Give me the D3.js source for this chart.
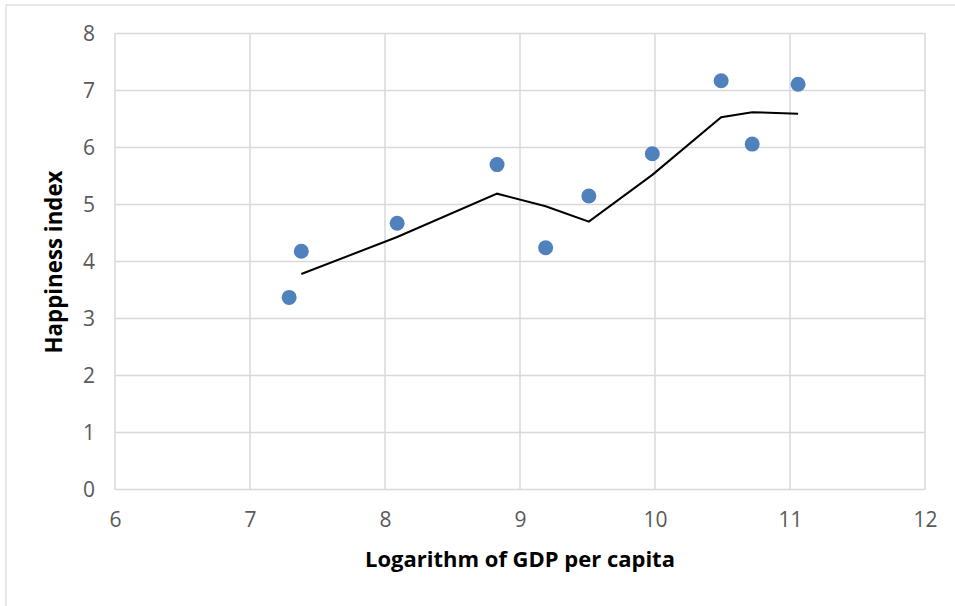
<!DOCTYPE html>
<html><head><meta charset="utf-8">
<script src="https://cdn.jsdelivr.net/npm/d3@7/dist/d3.min.js"></script>
<style>html,body{margin:0;padding:0;background:#fff;}</style>
</head><body>
<svg id="chart" width="955" height="606"></svg>
<script>
// Data
const gdpLog = [7.29, 7.38, 8.09, 8.83, 9.19, 9.51, 9.98, 10.49, 10.72, 11.06];
const happiness = [3.37, 4.18, 4.67, 5.70, 4.24, 5.15, 5.89, 7.17, 6.06, 7.11];
// Moving-average trendline values
const trendX = [7.38, 8.09, 8.83, 9.19, 9.51, 9.98, 10.49, 10.72, 11.06];
const trendY = [3.78, 4.43, 5.19, 4.97, 4.70, 5.52, 6.53, 6.62, 6.59];
const xTicks = [6, 7, 8, 9, 10, 11, 12];
const yTicks = [0, 1, 2, 3, 4, 5, 6, 7, 8];
const xTitle = "Logarithm of GDP per capita";
const yTitle = "Happiness index";

const svg = d3.select("#chart");
const font = "'Open Sans', Lato, sans-serif";

// outer chart border (only top and left edges fall inside the picture)
svg.append("rect").attr("x", 6).attr("y", 5).attr("width", 1000).attr("height", 700)
  .attr("fill", "#fff").attr("stroke", "#d9d9d9").attr("stroke-width", 1.2);

const x = d3.scaleLinear().domain([6, 12]).range([115, 925]);
const y = d3.scaleLinear().domain([0, 8]).range([489.5, 33.5]);

// gridlines
svg.append("g").selectAll("line").data(xTicks).join("line")
  .attr("x1", d => x(d)).attr("x2", d => x(d)).attr("y1", y(0)).attr("y2", y(8))
  .attr("stroke", "#d9d9d9").attr("stroke-width", 1.5);
svg.append("g").selectAll("line").data(yTicks).join("line")
  .attr("y1", d => y(d)).attr("y2", d => y(d)).attr("x1", x(6)).attr("x2", x(12))
  .attr("stroke", "#d9d9d9").attr("stroke-width", 1.5);

// axis labels via d3 axes
const xAxis = svg.append("g").attr("transform", `translate(0,${y(0)})`)
  .call(d3.axisBottom(x).tickValues(xTicks).tickSize(0).tickPadding(23).tickFormat(d3.format("d")));
xAxis.select(".domain").remove();
xAxis.selectAll("text").attr("font-family", font).attr("font-size", 21).attr("fill", "#595959");

const yAxis = svg.append("g").attr("transform", `translate(${x(6)},0)`)
  .call(d3.axisLeft(y).tickValues(yTicks).tickSize(0).tickPadding(20).tickFormat(d3.format("d")));
yAxis.select(".domain").remove();
yAxis.selectAll("text").attr("font-family", font).attr("font-size", 21).attr("fill", "#595959");

// trendline
const pts = trendX.map((v, i) => [v, trendY[i]]);
svg.append("path").datum(pts)
  .attr("d", d3.line().x(d => x(d[0])).y(d => y(d[1])))
  .attr("fill", "none").attr("stroke", "#000").attr("stroke-width", 2);

// points
svg.append("g").selectAll("circle").data(gdpLog.map((v, i) => [v, happiness[i]])).join("circle")
  .attr("cx", d => x(d[0])).attr("cy", d => y(d[1])).attr("r", 7.5)
  .attr("fill", "#4f81bd");

// titles, sized to the widths measured in the reference
function fit(sel, target) {
  const w = sel.node().getComputedTextLength();
  sel.attr("font-size", 20 * target / w);
}
const xt = svg.append("text").attr("x", 520).attr("y", 567).attr("text-anchor", "middle")
  .attr("font-family", font).attr("font-weight", "bold").attr("font-size", 20).attr("fill", "#000")
  .text(xTitle);
fit(xt, 310);
const yt = svg.append("text").attr("transform", "translate(62,262) rotate(-90)").attr("text-anchor", "middle")
  .attr("font-family", font).attr("font-weight", "bold").attr("font-size", 20).attr("fill", "#000")
  .text(yTitle);
fit(yt, 183);
</script>
</body></html>
